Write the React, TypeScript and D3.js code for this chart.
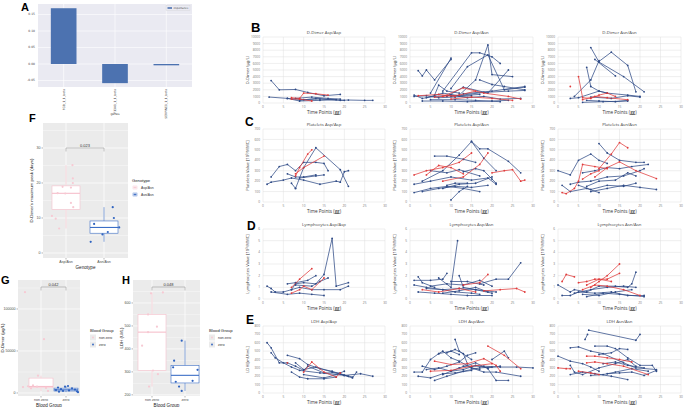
import React from 'react';
import * as d3 from 'd3';

type S = { c: string; p: number[][] };
const b = (...p: number[][]): S => ({ c: 'b', p });
const r = (...p: number[][]): S => ({ c: 'r', p });

// ---------- Panel A ----------
const aGenes = ['FGB_1_1_beta', 'F13A1_1_1_beta', 'SERPINE1_1_1_beta'];
const aImportance = [0.169, -0.058, -0.004];
const aTicks = [-0.05, 0, 0.05, 0.1, 0.15];

// ---------- Panels B-E ----------
const timeTicks = [0, 5, 10, 15, 20, 25, 30];
const dimerTicks = [0, 1000, 2000, 3000, 4000, 5000, 6000, 7000, 8000, 9000, 10000];
const plateletTicks = [0, 100, 200, 300, 400, 500, 600, 700];
const lymphTicks = [0, 1, 2, 3, 4, 5, 6];
const ldhTicks = [0, 100, 200, 300, 400, 500, 600, 700, 800];

const dimerAA: S[] = [
  b([2, 3400], [4, 2000], [8, 2050], [11, 1600], [15, 1100], [19, 1300]),
  b([1.5, 900], [6, 700], [10, 500], [14, 600], [19, 400], [21, 450], [25, 400], [27, 400]),
  b([6, 700], [9, 300], [14, 400], [18, 500]),
  b([8, 700], [12, 900], [16, 700], [19, 600]),
  b([9, 400], [13, 700], [20, 400]),
  r([7, 800], [9, 700], [10, 1500], [13, 1400], [16, 1200]),
  r([7, 600], [9, 600], [12, 300]),
];
const dimerAN: S[] = [
  b([2, 4900], [3, 4100], [4, 5000], [6, 3500], [10, 6600]),
  b([5, 1500], [10, 6800]),
  b([8, 1800], [15, 7600], [17, 7600], [20, 7000], [22, 6000]),
  b([12, 1200], [16, 3500], [19, 8800], [20, 4300], [25, 4000]),
  b([10, 2200], [14, 5500], [19, 7300], [23, 2000], [28, 2400]),
  b([9, 1000], [13, 2400], [19, 1500], [24, 5000]),
  b([17, 3500], [20, 2800], [23, 2500], [28, 2000]),
  b([1, 1200], [3, 700], [6, 1000], [10, 1200], [14, 800], [18, 1000], [22, 600], [27, 700]),
  b([1, 1000], [4, 1100], [7, 800], [11, 900], [15, 1100]),
  b([6, 1200], [7, 2700], [9, 1800], [12, 1500]),
  b([3, 300], [8, 300], [14, 200], [20, 300], [24, 400]),
  b([5, 500], [11, 500], [16, 400], [22, 200]),
  b([13, 1400], [20, 1800], [28, 2500]),
  b([10, 1000], [18, 1600], [24, 1800], [28, 1900]),
  b([4, 800], [8, 1500], [12, 1100], [17, 1300]),
  r([8, 1000], [13, 2300], [18, 1500], [24, 1000], [27, 600]),
  r([10, 600], [15, 900], [20, 700], [25, 400]),
  r([6, 900], [12, 1200], [16, 1800]),
  r([2, 1100], [7, 1300], [11, 1000]),
];
const dimerNN: S[] = [
  b([8, 8400], [10, 6200], [16, 4000], [21, 1700]),
  b([10, 6300], [13, 7700], [17, 5700], [19, 1700]),
  b([9, 6600], [14, 4100]),
  b([4, 1000], [8, 3500], [10, 6400]),
  b([7, 5400], [8, 2500], [10, 1800], [12, 1500]),
  b([3, 700], [5, 800], [10, 1800], [12, 1500], [17, 1200], [20, 1000]),
  b([7, 400], [10, 300], [14, 200], [17, 400]),
  b([6, 100], [11, 200], [17, 300]),
  b([8, 900], [13, 700], [17, 1100], [20, 900]),
  r([3, 2500]),
  r([5, 4000], [6, 800], [8, 700], [10, 1200], [12, 1500], [14, 1000]),
  r([6, 500], [9, 1000], [12, 800], [17, 500]),
];

const platAA: S[] = [
  b([2, 240], [4, 340], [6, 360], [8, 300], [10, 380], [13, 380], [15, 370], [16, 300]),
  b([8, 130], [10, 330], [13, 520], [19, 310], [21, 150]),
  b([1, 170], [2, 190], [5, 210], [7, 230], [10, 210], [14, 170], [18, 200], [19, 190], [20, 290], [21, 300]),
  b([6, 270], [8, 240], [10, 240], [13, 260]),
  b([7, 180], [8, 130]),
  b([9, 230], [13, 250], [15, 260]),
  r([8, 250], [9, 330], [11, 460], [12, 500]),
  r([8, 270], [10, 330], [15, 440]),
];
const platAN: S[] = [
  b([15, 580], [17, 510], [19, 510], [24, 390], [27, 280]),
  b([3, 200], [8, 300], [12, 450], [15, 580], [18, 420], [21, 300]),
  b([6, 440], [9, 440], [13, 410], [16, 380]),
  b([1, 170], [5, 200], [10, 240], [15, 210], [19, 230], [21, 170]),
  b([3, 100], [7, 130], [11, 150], [15, 140], [19, 160]),
  b([5, 300], [9, 280], [12, 310], [17, 250]),
  b([1, 90], [5, 130], [9, 150], [13, 130], [17, 100]),
  b([8, 130], [12, 170], [16, 180], [20, 240]),
  b([10, 20], [12, 100], [14, 150]),
  b([13, 290], [16, 320], [18, 300], [20, 220], [21, 180]),
  b([9, 160], [11, 180], [14, 180]),
  r([1, 260], [4, 300], [8, 330], [12, 380], [15, 470]),
  r([4, 260], [7, 350], [10, 330], [13, 270]),
  r([8, 200], [13, 240], [17, 360], [19, 470]),
  r([20, 280], [23, 300], [25, 310], [27, 200], [28, 210]),
];
const platNN: S[] = [
  b([0, 300], [3, 260], [5, 400], [8, 460], [10, 400], [12, 370]),
  b([10, 560], [12, 470], [15, 400], [19, 380], [21, 380]),
  b([1, 160], [3, 100], [7, 130], [10, 90]),
  b([3, 170], [5, 190], [8, 200], [12, 240], [16, 250], [20, 300], [21, 320]),
  b([7, 150], [10, 200], [14, 210], [17, 280], [19, 250]),
  b([5, 160], [8, 120], [12, 160], [16, 150], [19, 180]),
  b([8, 100], [12, 130], [16, 160], [20, 140], [24, 120]),
  b([6, 280], [9, 300], [12, 330], [15, 320], [18, 340], [22, 360]),
  r([1, 90], [2, 80], [4, 130], [5, 200], [6, 360], [9, 340], [12, 320]),
  r([10, 320], [13, 460], [15, 570], [17, 520]),
  r([9, 240], [12, 330], [15, 385], [19, 300], [24, 225]),
  r([6, 220], [8, 270], [10, 300]),
];

const lymAA: S[] = [
  b([1, 1.1], [2, 0.9], [3, 0.6], [5, 0.6], [7, 0.8], [8, 1.3], [10, 1.4], [13, 1.3], [15, 2.1], [17, 5.2], [18, 1.1], [21, 1.4]),
  b([2, 0.6], [6, 0.4], [9, 0.5], [12, 0.4], [15, 0.3]),
  b([6, 1.3], [8, 1.4], [11, 1.6], [13, 2.0]),
  b([7, 0.8], [9, 1.0], [12, 0.8], [15, 0.8], [19, 0.8], [21, 1.1]),
  b([8, 1.2], [12, 1.1], [14, 1.5], [16, 1.8]),
  r([7, 1.0], [9, 1.7], [12, 2.6]),
  r([7, 0.5], [9, 0.8], [10, 1.1], [12, 0.8], [15, 1.8]),
];
const lymAN: S[] = [
  b([7, 1.8], [10, 1.0], [11.6, 5.0]),
  b([17, 1.3], [21, 1.7], [24, 1.7], [27, 3.1]),
  b([1, 1.6], [5, 1.6], [8, 1.7], [9, 2.2]),
  b([2, 1.9], [3, 1.4], [6, 1.0]),
  b([1, 1.2], [4, 1.0], [8, 0.8], [12, 0.9], [16, 0.8], [21, 0.6]),
  b([2, 0.6], [6, 0.5], [10, 0.4], [14, 0.3], [20, 0.3]),
  b([5, 1.1], [9, 1.3], [13, 1.2], [17, 1.6], [20, 1.1]),
  b([8, 0.5], [12, 0.7], [16, 1.0], [19, 0.6]),
  b([10, 1.5], [14, 1.5], [18, 1.2]),
  b([4, 0.9], [8, 0.8], [11, 0.6], [15, 0.5], [17, 0.4]),
  b([12, 2.0], [13, 1.0], [16, 0.8], [20, 0.5]),
  r([13, 1.2], [17, 1.4], [19, 2.1]),
  r([3, 0.8], [7, 0.6], [12, 0.9], [16, 0.6]),
  r([18, 0.7], [22, 0.8], [26, 0.9], [28, 0.6]),
];
const lymNN: S[] = [
  b([0, 1.2], [3, 0.6], [4, 0.8], [7, 0.6], [10, 1.1], [14, 1.1], [17, 1.0], [18, 1.3], [19, 2.3]),
  b([1, 0.3], [3, 0.3], [5, 0.6], [9, 0.5], [13, 0.6], [17, 0.3], [21, 0.3]),
  b([4, 0.5], [8, 0.8], [12, 1.0], [16, 1.1], [19, 1.0]),
  b([6, 0.4], [10, 0.3], [14, 0.6], [18, 0.8]),
  b([7, 0.2], [11, 0.5], [15, 0.4], [21, 0.2]),
  r([1, 1.5], [2, 2.1], [4, 1.9]),
  r([8, 1.0], [10, 1.5], [12, 2.0], [15, 3.0]),
  r([5, 1.4], [7, 1.5], [9, 1.7], [12, 1.7], [15, 2.2]),
  r([6, 0.8], [9, 1.2], [12, 1.1], [16, 0.8], [20, 0.3]),
  r([7, 1.2], [10, 1.7], [13, 1.5]),
];

const ldhAA: S[] = [
  b([1, 600], [2, 540], [4, 360], [6, 360], [8, 320], [10, 270], [11, 320], [15, 240], [19, 240], [20, 260]),
  b([2, 480], [3, 420], [5, 360], [7, 310], [9, 270], [14, 240], [20, 210], [24, 230], [27, 200]),
  b([6, 450], [9, 410], [11, 340], [14, 290], [17, 260], [20, 210], [22, 180], [23, 250]),
  b([7, 250], [9, 190], [11, 170], [15, 170], [18, 190]),
  b([8, 360], [10, 280], [13, 310], [17, 250], [21, 200]),
  b([10, 220], [15, 180], [19, 230], [22, 190]),
  r([10, 250], [12, 370], [15, 250], [18, 190], [19, 240]),
  r([6, 360]),
];
const ldhAN: S[] = [
  b([11, 640], [12, 500], [15, 400]),
  b([20, 400], [23, 500], [24, 420]),
  b([13, 320], [18, 320], [22, 310], [26, 310], [30, 300]),
  b([8, 220], [12, 300], [16, 360], [19, 290], [21, 150], [24, 150]),
  b([15, 300], [18, 250], [21, 250], [27, 200]),
  b([1, 250], [3, 250], [5, 400], [7, 470], [10, 500], [12, 460]),
  b([2, 200], [5, 180], [8, 230], [11, 240], [15, 270]),
  b([3, 320], [6, 280], [9, 320], [12, 370], [14, 450], [16, 480]),
  b([6, 150], [9, 200], [13, 260], [17, 300], [20, 310]),
  b([7, 470], [8, 500], [10, 420], [12, 380], [15, 300], [17, 280]),
  b([9, 480], [11, 520], [13, 470], [14, 350]),
  b([4, 280], [7, 300], [10, 260], [13, 280], [16, 330], [19, 300], [22, 320]),
  r([19, 560], [23, 450], [27, 290]),
  r([6, 380], [10, 340], [14, 350], [18, 410], [21, 330], [22, 260]),
  r([5, 260], [10, 270], [15, 320], [20, 350]),
];
const ldhNN: S[] = [
  b([7.5, 750], [19, 630], [20, 700]),
  b([6.6, 640], [7.2, 700]),
  b([0, 440], [3, 380], [6, 350], [8, 310], [10, 260]),
  b([3, 540], [5, 550], [8, 500], [11, 470], [16, 360], [19, 300], [24, 280]),
  b([9, 560], [12, 560], [14, 530], [17, 420], [20, 330], [23, 330], [24, 260]),
  b([3, 220], [6, 250], [9, 230], [13, 200], [17, 160]),
  b([3, 330], [4, 250], [6, 220], [10, 300], [14, 350], [17, 400], [19, 320]),
  b([10, 460], [13, 480], [15, 530], [17, 520]),
  b([11, 350], [14, 370], [17, 330], [21, 300]),
  b([12, 230], [15, 240], [18, 250], [21, 210], [24, 270]),
  b([8, 210], [11, 220], [14, 250], [18, 290], [22, 260]),
  r([0, 300], [2, 290], [3, 290]),
  r([7, 440], [9, 440], [12, 420], [15, 400], [18, 370]),
  r([7, 360], [9, 370], [12, 350], [16, 320], [22, 220]),
  r([5, 260], [8, 240], [10, 220]),
];

// ---------- Panels F, G, H ----------
const fCats = ['Asp/Asn', 'Asn/Asn'];
const fAspAsn = [25.1, 21.3, 20, 18.9, 18.7, 17.1, 17, 14.3, 13.1, 10.6, 9.8, 7];
const fAspAsnJit = [0.17, 0.18, 0.18, -0.09, 0.13, -0.22, -0.02, 0.13, 0.19, -0.37, -0.27, -0.18];
const fAsnAsn = [13.1, 10, 8.3, 7.3, 6, 5.3, 3.2];
const fAsnAsnJit = [0.23, 0.26, -0.26, 0.4, 0.1, -0.04, -0.35];
const fTicks = [0, 10, 20, 30];
const fMinor = [5, 15, 25, 35];

const bgCats = ['non zero', 'zero'];
const gNonZero = [120000, 64000, 20600, 9000, 8000, 7500, 7000, 6000, 5500, 2400];
const gNonZeroJit = [-0.64, 0.12, -0.12, -0.32, -0.52, -0.16, -0.72, 0.2, -0.4, 0.28];
const gZero = [8300, 7500, 6500, 5500, 4500, 4000, 3500, 3000, 2500, 2000, 1500, 1000];
const gZeroJit = [0.08, -0.04, -0.32, 0.24, -0.2, 0.36, -0.4, 0.12, -0.12, 0.44, -0.28, 0.48];
const gTicks = [0, 50000, 100000];
const gMinor = [25000, 75000, 125000];

const hNonZero = [646, 642, 550, 497, 473, 414, 306, 290, 236];
const hNonZeroJit = [0.33, -0.03, -0.12, 0.15, -0.12, -0.3, 0.03, 0.18, -0.09];
const hZero = [436, 349, 320, 309, 261, 257, 236, 217];
const hZeroJit = [-0.1, -0.33, -0.36, 0.38, 0.23, -0.28, -0.18, -0.1];
const hTicks = [200, 300, 400, 500, 600];
const hMinor = [250, 350, 450, 550, 650];

const BLUE = '#2E4A86';
const RED = '#E03A3A';
const PINK = '#F6BFCB';
const PINKPT = '#F7C9D3';
const GBLUE = '#3C6EC6';
const GRAY = '#EBEBEB';

function LineChart(props: { left: number; right: number; top: number; bottom: number; title: string; yLabel: string; ticks: number[]; series: S[] }) {
  const { left, right, top, bottom, title, yLabel, ticks, series } = props;
  const x = d3.scaleLinear().domain([0, 30]).range([left, right]);
  const y = d3.scaleLinear().domain([0, ticks[ticks.length - 1]]).range([bottom, top]);
  const line = d3.line<number[]>().x((d) => x(d[0])).y((d) => y(d[1]));
  return (
    <g>
      {ticks.map((t) => (
        <line key={'h' + t} x1={left} x2={right} y1={y(t)} y2={y(t)} stroke="#dedede" strokeWidth={0.5} />
      ))}
      {timeTicks.map((t) => (
        <line key={'v' + t} x1={x(t)} x2={x(t)} y1={top} y2={bottom} stroke="#dedede" strokeWidth={0.5} />
      ))}
      {ticks.map((t) => (
        <text key={'yt' + t} x={left - 3} y={y(t) + 1.1} fontSize={3.2} textAnchor="end" fill="#7a7a7a">{t}</text>
      ))}
      {timeTicks.map((t) => (
        <text key={'xt' + t} x={x(t)} y={bottom + 4.5} fontSize={3.2} textAnchor="middle" fill="#7a7a7a">{t}</text>
      ))}
      <text x={(left + right) / 2} y={top - 3.5} fontSize={4.3} textAnchor="middle" fill="#404040">{title}</text>
      <text x={(left + right) / 2} y={bottom + 10.5} fontSize={4.6} textAnchor="middle" fill="#333">
        Time Points (<tspan textDecoration="underline">gg</tspan>)
      </text>
      <text transform={`translate(${left - 14.5},${(top + bottom) / 2}) rotate(-90)`} fontSize={4.2} textAnchor="middle" fill="#333">{yLabel}</text>
      {series.map((s, i) => {
        const col = s.c === 'r' ? RED : BLUE;
        return (
          <g key={i}>
            <path d={line(s.p) || ''} fill="none" stroke={col} strokeWidth={0.75} />
            {s.p.map((d, j) => (
              <circle key={j} cx={x(d[0])} cy={y(d[1])} r={0.9} fill={col} />
            ))}
          </g>
        );
      })}
    </g>
  );
}

function stats(vals: number[]) {
  const s = [...vals].sort((a, c) => a - c);
  const q1 = d3.quantile(s, 0.25) as number;
  const med = d3.quantile(s, 0.5) as number;
  const q3 = d3.quantile(s, 0.75) as number;
  const iqr = q3 - q1;
  const lo = d3.min(s.filter((v) => v >= q1 - 1.5 * iqr)) as number;
  const hi = d3.max(s.filter((v) => v <= q3 + 1.5 * iqr)) as number;
  return { q1, med, q3, lo, hi };
}

function BoxPanel(props: {
  gx0: number; gx1: number; gy0: number; gy1: number;
  dom: number[]; ticks: number[]; minor: number[]; wide?: boolean;
  cats: string[]; catRange: number[]; half: number;
  groups: number[][]; jit: number[][];
  yLabel: string; xLabel: string; pval: string; bracketY: number;
  legendTitle: string; legendX: number; legendY: number; legendBox: boolean;
}) {
  const p = props;
  const y = d3.scaleLinear().domain(p.dom).range([p.gy1, p.gy0]);
  const x = d3.scalePoint<string>().domain(p.cats).range(p.catRange as [number, number]);
  const step = x.step();
  const strokes = [PINK, GBLUE];
  const fills = [PINKPT, '#2F63C0'];
  const cx = p.cats.map((c) => x(c) as number);
  return (
    <g fontFamily="'Liberation Sans', Arial, sans-serif">
      <rect x={p.gx0} y={p.gy0} width={p.gx1 - p.gx0} height={p.gy1 - p.gy0} fill={GRAY} />
      {p.minor.map((t) => (
        <line key={'m' + t} x1={p.gx0} x2={p.gx1} y1={y(t)} y2={y(t)} stroke="#fff" strokeWidth={0.35} />
      ))}
      {p.ticks.map((t) => (
        <line key={'M' + t} x1={p.gx0} x2={p.gx1} y1={y(t)} y2={y(t)} stroke="#fff" strokeWidth={0.7} />
      ))}
      {cx.map((c, i) => (
        <line key={'vc' + i} x1={c} x2={c} y1={p.gy0} y2={p.gy1} stroke="#fff" strokeWidth={0.7} />
      ))}
      {p.ticks.map((t) => (
        <g key={'t' + t}>
          <line x1={p.gx0 - 1.5} x2={p.gx0} y1={y(t)} y2={y(t)} stroke="#444" strokeWidth={0.4} />
          <text x={p.gx0 - 2.5} y={y(t) + 1.3} fontSize={3.6} textAnchor="end" fill="#4d4d4d">{t}</text>
        </g>
      ))}
      {p.cats.map((c, i) => (
        <g key={'c' + c}>
          <line x1={cx[i]} x2={cx[i]} y1={p.gy1} y2={p.gy1 + 1.5} stroke="#444" strokeWidth={0.4} />
          <text x={cx[i]} y={p.gy1 + 5} fontSize={3.6} textAnchor="middle" fill="#4d4d4d">{c}</text>
        </g>
      ))}
      <text x={(p.gx0 + p.gx1) / 2} y={p.gy1 + 10.5} fontSize={4.6} textAnchor="middle" fill="#222">{p.xLabel}</text>
      <text transform={`translate(${p.gx0 - (p.wide ? 14 : 10)},${(p.gy0 + p.gy1) / 2}) rotate(-90)`} fontSize={4.4} textAnchor="middle" fill="#222">{p.yLabel}</text>
      {p.groups.map((g, i) => {
        const s = stats(g);
        return (
          <g key={'b' + i}>
            <line x1={cx[i]} x2={cx[i]} y1={y(s.hi)} y2={y(s.q3)} stroke={strokes[i]} strokeWidth={0.6} />
            <line x1={cx[i]} x2={cx[i]} y1={y(s.q1)} y2={y(s.lo)} stroke={strokes[i]} strokeWidth={0.6} />
            <rect x={cx[i] - p.half} y={y(s.q3)} width={p.half * 2} height={y(s.q1) - y(s.q3)} fill="#fff" stroke={strokes[i]} strokeWidth={0.6} />
            <line x1={cx[i] - p.half} x2={cx[i] + p.half} y1={y(s.med)} y2={y(s.med)} stroke={strokes[i]} strokeWidth={1.1} />
            {g.map((v, j) => (
              <circle key={j} cx={cx[i] + p.jit[i][j] * step} cy={y(v)} r={1.1} fill={fills[i]} />
            ))}
          </g>
        );
      })}
      <path d={`M${cx[0]},${p.bracketY + 3.5}V${p.bracketY}H${cx[1]}V${p.bracketY + 3.5}`} fill="none" stroke="#9a9a9a" strokeWidth={0.6} />
      <text x={(cx[0] + cx[1]) / 2} y={p.bracketY - 1.5} fontSize={4} textAnchor="middle" fill="#333">{p.pval}</text>
      <text x={p.legendX} y={p.legendY} fontSize={4.2} fill="#222">{p.legendTitle}</text>
      {p.cats.map((c, i) => (
        <g key={'lg' + c}>
          <rect x={p.legendX} y={p.legendY + 2.5 + i * 7} width={6} height={6} fill={p.legendBox ? '#fff' : GRAY} />
          {p.legendBox ? (
            <g>
              <rect x={p.legendX + 1} y={p.legendY + 4 + i * 7} width={4} height={3} fill="#fff" stroke={strokes[i]} strokeWidth={0.4} />
              <line x1={p.legendX + 1} x2={p.legendX + 5} y1={p.legendY + 5.5 + i * 7} y2={p.legendY + 5.5 + i * 7} stroke={strokes[i]} strokeWidth={0.4} />
            </g>
          ) : null}
          <circle cx={p.legendX + 3} cy={p.legendY + 5.5 + i * 7} r={0.9} fill={fills[i]} />
          <text x={p.legendX + 9} y={p.legendY + 7 + i * 7} fontSize={3.4} fill="#333">{c}</text>
        </g>
      ))}
    </g>
  );
}

function PanelA() {
  const x = d3.scaleBand<string>().domain(aGenes).range([38, 192]).paddingInner(0.5).paddingOuter(0.25);
  const y = d3.scaleLinear().domain([-0.0697, 0.1818]).range([87, 4]);
  return (
    <g fontFamily="'DejaVu Sans', sans-serif">
      <rect x={38} y={4} width={154} height={83} fill="#EAEAF2" />
      {aTicks.map((t) => (
        <g key={t}>
          <line x1={38} x2={192} y1={y(t)} y2={y(t)} stroke="#fff" strokeWidth={0.6} />
          <text x={35} y={y(t) + 1} fontSize={3} textAnchor="end" fill="#444">{t.toFixed(2)}</text>
        </g>
      ))}
      {aGenes.map((g) => (
        <line key={'v' + g} x1={(x(g) as number) + x.bandwidth() / 2} x2={(x(g) as number) + x.bandwidth() / 2} y1={4} y2={87} stroke="#fff" strokeWidth={0.6} />
      ))}
      {aGenes.map((g, i) => (
        <rect key={g} x={x(g)} y={y(Math.max(0, aImportance[i]))} width={x.bandwidth()} height={Math.max(0.8, Math.abs(y(aImportance[i]) - y(0)))} fill="#4C72B0" />
      ))}
      {aGenes.map((g) => (
        <text key={'l' + g} transform={`translate(${(x(g) as number) + x.bandwidth() / 2 + 1},${89}) rotate(-90)`} fontSize={3} textAnchor="end" fill="#444">{g}</text>
      ))}
      <text x={115} y={115} fontSize={3} textAnchor="middle" fill="#444">genes</text>
      <rect x={166} y={5.5} width={24} height={5} fill="#EAEAF2" stroke="#ccc" strokeWidth={0.3} />
      <rect x={167.5} y={7.2} width={4.5} height={1.6} fill="#4C72B0" />
      <text x={173.5} y={9} fontSize={2.6} fill="#444">importance</text>
    </g>
  );
}

export default function App() {
  const cols = [[263, 385], [410, 533], [558, 681]];
  const rows = [
    { top: 37, bottom: 103, ticks: dimerTicks, name: 'D-Dimer', yl: 'D-Dimer (µg/L)', data: [dimerAA, dimerAN, dimerNN] },
    { top: 129, bottom: 202, ticks: plateletTicks, name: 'Platelets', yl: 'Platelets Value [10³/MMC]', data: [platAA, platAN, platNN] },
    { top: 229, bottom: 299, ticks: lymphTicks, name: 'Lymphocytes', yl: 'Lymphocytes Value [10³/MMC]', data: [lymAA, lymAN, lymNN] },
    { top: 326, bottom: 393, ticks: ldhTicks, name: 'LDH', yl: 'LDH [mU/mL]', data: [ldhAA, ldhAN, ldhNN] },
  ];
  const geno = ['Asp/Asp', 'Asp/Asn', 'Asn/Asn'];
  return (
    <svg width={685} height={407} style={{ position: 'absolute', left: 0, top: 0, background: '#fff' }} fontFamily="'Open Sans', 'Liberation Sans', sans-serif">
      <rect width={685} height={407} fill="#fff" />
      <PanelA />
      {rows.map((rw, ri) => (
        <g key={ri}>
          {cols.map((c, ci) => (
            <LineChart key={ci} left={c[0]} right={c[1]} top={rw.top} bottom={rw.bottom} ticks={rw.ticks}
              title={`${rw.name} ${geno[ci]}`} yLabel={rw.yl} series={rw.data[ci]} />
          ))}
        </g>
      ))}
      <BoxPanel gx0={43} gx1={128} gy0={123} gy1={258} dom={[-1.43, 37.14]} ticks={fTicks} minor={fMinor}
        cats={fCats} catRange={[66, 104]} half={14} groups={[fAspAsn, fAsnAsn]} jit={[fAspAsnJit, fAsnAsnJit]}
        yLabel="D-Dimer's maximum peak (days)" xLabel="Genotype" pval="0.023" bracketY={148}
        legendTitle="Genotype" legendX={132} legendY={182} legendBox={true} />
      <BoxPanel gx0={18} gx1={80} gy0={280} gy1={396} dom={[-3600, 134500]} ticks={gTicks} minor={gMinor} wide={true}
        cats={bgCats} catRange={[41, 66]} half={12} groups={[gNonZero, gZero]} jit={[gNonZeroJit, gZeroJit]}
        yLabel="D-Dimer (µg/L)" xLabel="Blood Group" pval="0.042" bracketY={287}
        legendTitle="Blood Group" legendX={90} legendY={332} legendBox={false} />
      <BoxPanel gx0={133} gx1={200} gy0={280} gy1={396} dom={[195, 700]} ticks={hTicks} minor={hMinor}
        cats={bgCats} catRange={[152, 185]} half={14} groups={[hNonZero, hZero]} jit={[hNonZeroJit, hZeroJit]}
        yLabel="LDH (UI/L)" xLabel="Blood Group" pval="0.048" bracketY={287}
        legendTitle="Blood Group" legendX={209} legendY={332} legendBox={false} />
      <g fontFamily="'Liberation Sans', Arial, sans-serif" fontWeight="bold" fill="#000">
        <text x={21} y={11} fontSize={11}>A</text>
        <text x={251} y={32} fontSize={13}>B</text>
        <text x={245} y={126} fontSize={12}>C</text>
        <text x={247} y={230} fontSize={12}>D</text>
        <text x={246} y={324} fontSize={12}>E</text>
        <text x={29} y={122} fontSize={11}>F</text>
        <text x={1} y={284} fontSize={11}>G</text>
        <text x={122} y={284} fontSize={11}>H</text>
      </g>
    </svg>
  );
}
